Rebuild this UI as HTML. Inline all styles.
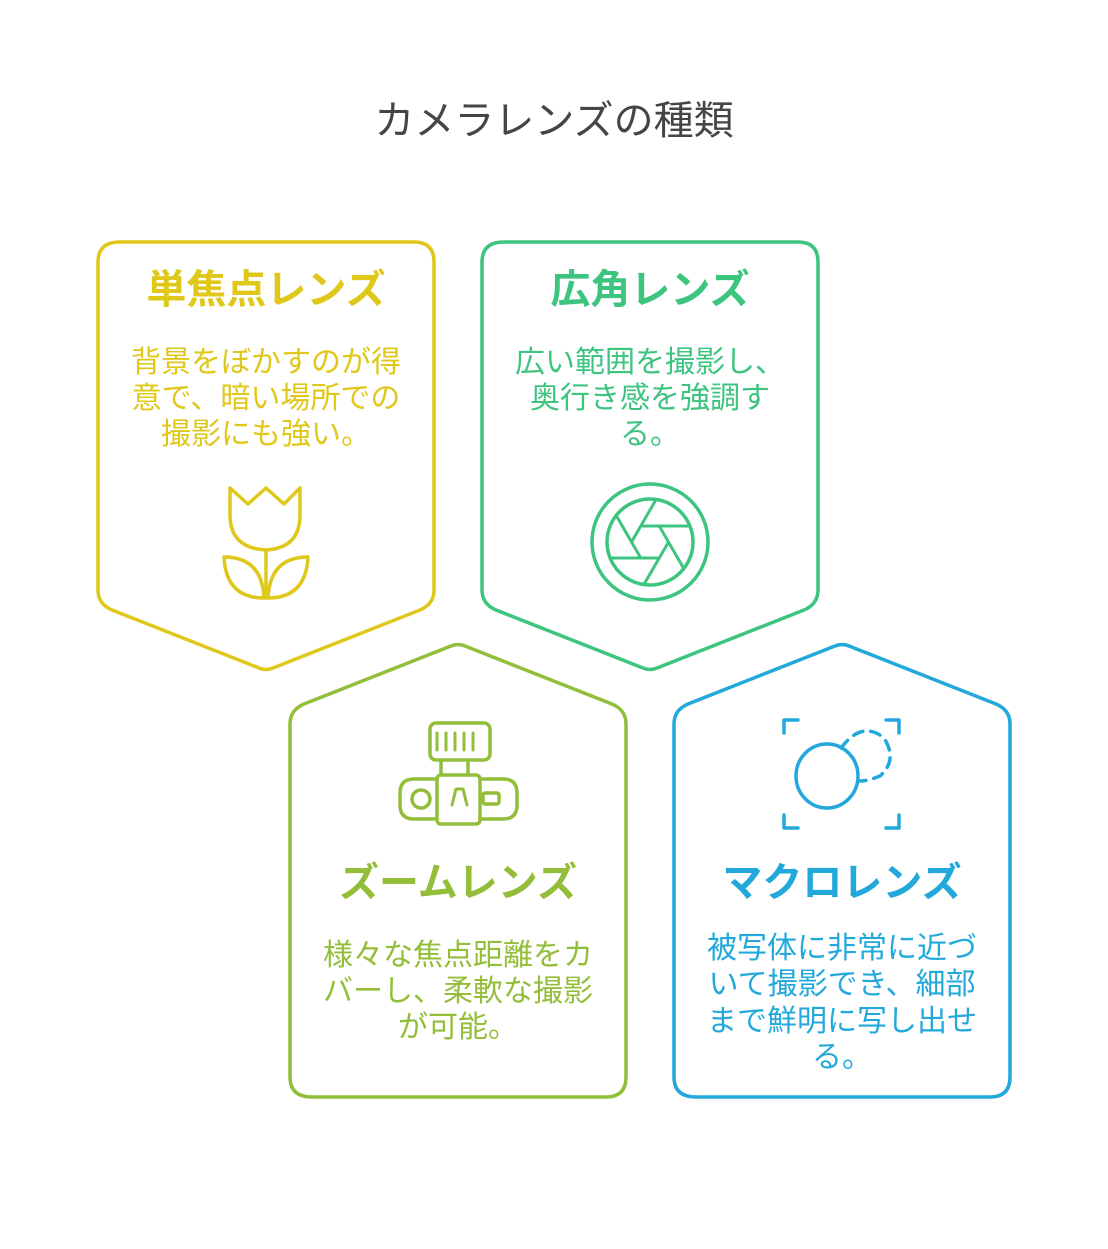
<!DOCTYPE html>
<html><head><meta charset="utf-8"><style>
html,body{margin:0;padding:0;background:#fff}
svg text{font-family:"Liberation Sans","Noto Sans CJK JP",sans-serif;text-anchor:middle}
</style></head><body>
<svg width="1108" height="1244" viewBox="0 0 1108 1244" xmlns="http://www.w3.org/2000/svg">
<rect width="1108" height="1244" fill="#fff"/>
<text x="554" y="134" font-size="40" fill="#454545">カメラレンズの種類</text>

<!-- yellow -->
<g fill="none" stroke="#E0C81A" stroke-width="3.5" stroke-linecap="round" stroke-linejoin="round">
<path d="M120,242 H414 Q434,242 434,262 V590 Q434,604 420,610 L273,668 Q266,671 259,668 L112,610 Q98,604 98,590 V262 Q98,242 120,242 Z"/>
<path d="M230,488 L248,504 L266,488 L284,504 L300,488 V515 Q300,548 266,550 Q230,548 230,515 Z"/>
<path d="M266,550 V598"/>
<path d="M264,598 Q226,598 224,557 Q262,557 264,598 Z"/>
<path d="M268,598 Q306,598 308,557 Q270,557 268,598 Z"/>
</g>
<text x="266" y="303" font-size="40" font-weight="bold" fill="#E0C81A">単焦点レンズ</text>
<g font-size="30" fill="#E0C81A"><text x="266" y="372">背景をぼかすのが得</text><text x="266" y="408">意で、暗い場所での</text><text x="266" y="444">撮影にも強い。</text></g>

<!-- green -->
<g fill="none" stroke="#3DC47F" stroke-width="3.5" stroke-linecap="round" stroke-linejoin="round">
<path d="M504,242 H798 Q818,242 818,262 V590 Q818,604 804,610 L657,668 Q650,671 643,668 L496,610 Q482,604 482,590 V262 Q482,242 504,242 Z"/>
<circle cx="650" cy="542" r="58"/>
<circle cx="650" cy="542" r="43"/>
<g stroke-width="3">
<path d="M641,526 L690,526"/>
<path d="M641,526 L690,526" transform="rotate(60 650 542)"/>
<path d="M641,526 L690,526" transform="rotate(120 650 542)"/>
<path d="M641,526 L690,526" transform="rotate(180 650 542)"/>
<path d="M641,526 L690,526" transform="rotate(240 650 542)"/>
<path d="M641,526 L690,526" transform="rotate(300 650 542)"/>
</g>
</g>
<text x="650" y="303" font-size="40" font-weight="bold" fill="#3DC47F">広角レンズ</text>
<g font-size="30" fill="#3DC47F"><text x="650" y="372">広い範囲を撮影し、</text><text x="650" y="408">奥行き感を強調す</text><text x="650" y="444">る。</text></g>

<!-- lime -->
<g fill="none" stroke="#93BE3A" stroke-width="3.5" stroke-linecap="round" stroke-linejoin="round">
<path d="M312,1097 H606 Q626,1097 626,1077 V724 Q626,710 612,704 L465,646 Q458,643 451,646 L304,704 Q290,710 290,724 V1077 Q290,1097 312,1097 Z"/>
<rect x="430" y="723" width="60" height="37" rx="6"/>
<path d="M437,733 V750 M446,733 V750 M455,733 V750 M464,733 V750 M473,733 V750" stroke-width="3"/>
<path d="M441,760 V775 M468,760 V775"/>
<rect x="437" y="775" width="43" height="49" rx="4"/>
<path d="M437,779 H414 Q400,779 400,793 V805 Q400,819 414,819 H437 M480,779 H503 Q517,779 517,793 V805 Q517,819 503,819 H480"/>
<circle cx="421" cy="799" r="9"/>
<rect x="483" y="793" width="16" height="11" rx="2"/>
<path d="M452,805 L456,789 H463 L467,805" stroke-width="3"/>
</g>
<text x="458" y="896" font-size="40" font-weight="bold" fill="#93BE3A">ズームレンズ</text>
<g font-size="30" fill="#93BE3A"><text x="458" y="965">様々な焦点距離をカ</text><text x="458" y="1001">バーし、柔軟な撮影</text><text x="458" y="1037">が可能。</text></g>

<!-- blue -->
<g fill="none" stroke="#22A8DB" stroke-width="3.5" stroke-linecap="round" stroke-linejoin="round">
<path d="M696,1097 H990 Q1010,1097 1010,1077 V724 Q1010,710 996,704 L849,646 Q842,643 835,646 L688,704 Q674,710 674,724 V1077 Q674,1097 696,1097 Z"/>
<path d="M784,733 V720 H798 M886,720 H899 V733 M784,815 V828 H798 M886,828 H899 V815"/>
<ellipse cx="827" cy="776" rx="31" ry="32"/>
<path d="M841,748 Q862,720 884,738 Q898,760 880,776 Q868,781 860,781" stroke-dasharray="10 8"/>
</g>
<text x="842" y="896" font-size="40" font-weight="bold" fill="#22A8DB">マクロレンズ</text>
<g font-size="30" fill="#22A8DB"><text x="842" y="958">被写体に非常に近づ</text><text x="842" y="994">いて撮影でき、細部</text><text x="842" y="1031">まで鮮明に写し出せ</text><text x="842" y="1067">る。</text></g>
</svg>
</body></html>
